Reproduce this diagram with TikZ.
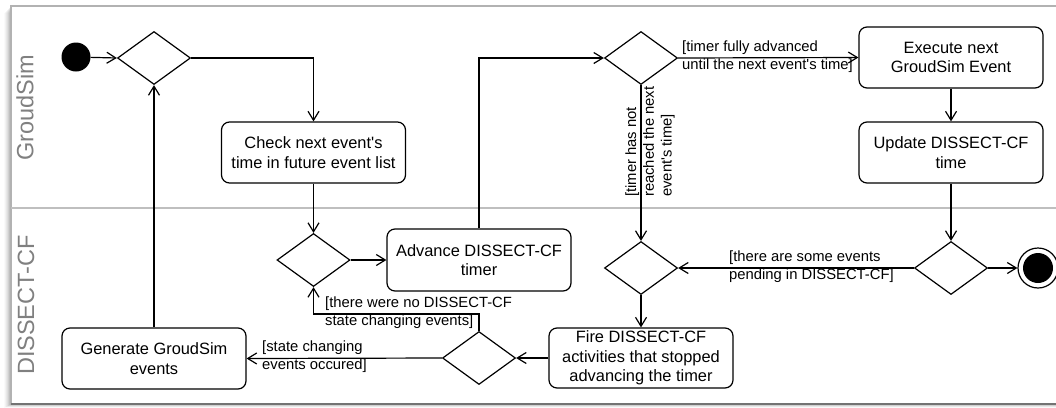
\documentclass[tikz,border=0pt]{standalone}
\usepackage{fontspec}
\setmainfont{Liberation Sans}
\usetikzlibrary{arrows.meta,shapes.geometric}
\newcommand{\apos}{\textquotesingle}
\begin{document}
\begin{tikzpicture}[x=1pt,y=-1pt,
  act/.style={draw, line width=1.2pt, rounded corners=8pt, minimum width=184pt, minimum height=61pt, align=center, font=\fontsize{16.4}{19.3}\selectfont, inner sep=0pt},
  dec/.style={draw, diamond, line width=1.2pt, minimum width=73pt, minimum height=53pt, inner sep=0pt},
  flow/.style={line width=1.2pt, -{Straight Barb[length=9pt,width=11pt,line width=1.2pt]}},
  lbl/.style={font=\fontsize{14.8}{17.8}\selectfont, align=left, inner sep=0pt},
  lane/.style={rotate=90, text=black!50, font=\fontsize{23.5}{28}\selectfont, inner sep=0pt},
]
\useasboundingbox (0,0) rectangle (1056,407);
\clip (0,0) rectangle (1056,407);
% shadow
\foreach \i/\o in {1/0.10,2/0.08,3/0.06,4/0.05,5/0.04,6/0.03,7/0.02} {
  \fill[black,opacity=\o] (11-\i,6+\i) rectangle (1075,404+\i*0.5);
}
% frame
\draw[black!30, line width=1.5pt, fill=white] (11,6) rectangle (1075,404);
\draw[black!55, line width=1.5pt] (11,404) -- (1075,404);
\draw[black!25, line width=1.5pt] (11,208) -- (1075,208);
\node[lane] (laneA) at (25,108) {GroudSim};
\node[lane] (laneB) at (26,305) {DISSECT-CF};

% nodes
\node[circle, fill=black, minimum size=29pt, inner sep=0pt] (start) at (76,57) {};
\node[dec] (d1) at (154,58) {};
\node[act] (check) at (313.5,152.5) {Check next event\apos s\\time in future event list};
\node[dec] (d2) at (313.5,260) {};
\node[act, minimum height=62pt] (adv) at (479,260) {Advance DISSECT-CF\\timer};
\node[act] (gen) at (154,358.5) {Generate GroudSim\\events};
\node[dec] (d3) at (479,358) {};
\node[act, minimum height=60pt] (fire) at (641,358) {Fire DISSECT-CF\\activities that stopped\\advancing the timer};
\node[dec] (d4) at (641,58) {};
\node[dec] (d5) at (641,268) {};
\node[act] (exec) at (951,57.5) {Execute next\\GroudSim Event};
\node[act] (upd) at (951,152.5) {Update DISSECT-CF\\time};
\node[dec] (d6) at (951,268) {};
\node[circle, draw, line width=1.2pt, minimum size=40pt, inner sep=0pt] (end) at (1038,268) {};
\node[circle, fill=black, minimum size=30pt, inner sep=0pt] (endin) at (end) {};

% edges
\draw[flow] (start) -- (d1.west);
\draw[flow] (d1.east) -| (check.north);
\draw[flow] (check.south) -- (d2.north);
\draw[flow] (d2.east) -- (adv.west);
\draw[flow] (adv.north) |- (d4.west);
\draw[flow] (d4.east) -- (exec.west);
\draw[flow] (d4.south) -- (d5.north);
\draw[flow] (exec.south) -- (upd.north);
\draw[flow] (upd.south) -- (d6.north);
\draw[flow] (d6.east) -- (end);
\draw[flow] (d6.west) -- (d5.east);
\draw[flow] (d5.south) -- (fire.north);
\draw[flow] (fire.west) -- (d3.east);
\draw[flow] (d3.west) -- (gen.east);
\draw[flow] (d3.north) -- ++(0,-17) -| (d2.south);
\draw[flow] (gen.north) -- (d1.south);

% labels
\node[lbl, anchor=west] (l1) at (682,57) {[timer fully advanced\\until the next event\apos s time]};
\node[lbl, rotate=90, anchor=west] (l2) at (650,197) {[timer has not\\reached the next\\event\apos s time]};
\node[lbl, anchor=west] (l3) at (325,313) {[there were no DISSECT-CF\\state changing events]};
\node[lbl, anchor=west] (l4) at (262,357) {[state changing\\events occured]};
\node[lbl, anchor=west] (l5) at (729,267) {[there are some events\\pending in DISSECT-CF]};
\end{tikzpicture}
\end{document}
